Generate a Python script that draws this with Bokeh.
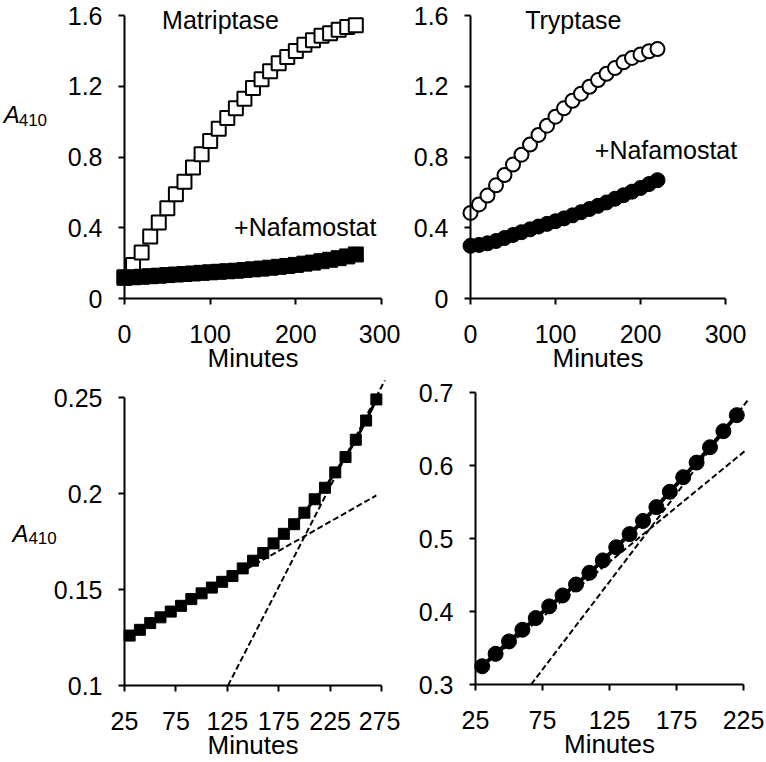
from bokeh.plotting import figure
from bokeh.layouts import gridplot
from bokeh.models import Range1d, FixedTicker, NumeralTickFormatter, Label
from bokeh.embed import file_html
from bokeh.resources import INLINE

# ---------------- data ----------------
mat_minutes = [0, 10, 20, 30, 40, 50, 60, 70, 80, 90, 100, 110, 120, 130,
               140, 150, 160, 170, 180, 190, 200, 210, 220, 230, 240, 250, 260, 270]
matriptase = [0.12, 0.19, 0.26, 0.35, 0.43, 0.51, 0.59, 0.66, 0.74, 0.815, 0.89,
              0.96, 1.02, 1.075, 1.13, 1.19, 1.24, 1.285, 1.33, 1.365, 1.40,
              1.435, 1.46, 1.485, 1.50, 1.52, 1.535, 1.545]
matriptase_nafamostat = [0.117, 0.12, 0.123, 0.126, 0.129, 0.1325, 0.1355, 0.1385,
                         0.1415, 0.145, 0.148, 0.151, 0.154, 0.157, 0.161, 0.165,
                         0.169, 0.174, 0.179, 0.184, 0.190, 0.197, 0.203, 0.211,
                         0.219, 0.228, 0.238, 0.249]

tryp_minutes = [0, 10, 20, 30, 40, 50, 60, 70, 80, 90, 100, 110, 120, 130,
                140, 150, 160, 170, 180, 190, 200, 210, 220]
tryptase = [0.484, 0.532, 0.582, 0.64, 0.698, 0.757, 0.813, 0.87, 0.925, 0.977,
            1.028, 1.075, 1.118, 1.158, 1.197, 1.235, 1.27, 1.303, 1.335, 1.36,
            1.38, 1.398, 1.41]
tryptase_nafamostat = [0.298, 0.303, 0.312, 0.325, 0.342, 0.359, 0.375, 0.391,
                       0.407, 0.422, 0.437, 0.453, 0.47, 0.488, 0.506, 0.524,
                       0.543, 0.564, 0.584, 0.604, 0.625, 0.647, 0.669]

# fitted tangent lines (zoomed panels)
mat_fit1_x = [30, 270]
mat_fit1_y = [0.126, 0.199]
mat_fit2_x = [125.7, 280]
mat_fit2_y = [0.1, 0.2608]
tryp_fit1_x = [30, 227]
tryp_fit1_y = [0.325, 0.6213]
tryp_fit2_x = [66.5, 228]
tryp_fit2_y = [0.3, 0.689]

top_x_ticks = [0, 100, 200, 300]
top_y_ticks = [0, 0.4, 0.8, 1.2, 1.6]
bl_x_ticks = [25, 75, 125, 175, 225, 275]
bl_y_ticks = [0.1, 0.15, 0.2, 0.25]
br_x_ticks = [25, 75, 125, 175, 225]
br_y_ticks = [0.3, 0.4, 0.5, 0.6, 0.7]

FONT = "Liberation Sans"


def make_fig(w, h, xb, yb, ax_px, ay_px, x_len_px, y_len_px, xt, yt, yfmt):
    """w,h: figure size; xb,yb: axis bounds; ax_px: pixel x of the y-axis from
    the figure's left; ay_px: pixel y of the x-axis from the figure's top;
    x_len_px / y_len_px: pixel length of the axes."""
    sx = x_len_px / (xb[1] - xb[0])
    sy = y_len_px / (yb[1] - yb[0])
    x_range = Range1d(xb[0] - ax_px / sx, xb[0] + (w - ax_px) / sx)
    y_range = Range1d(yb[0] - (h - ay_px) / sy, yb[0] + ay_px / sy)
    p = figure(width=w, height=h, x_range=x_range, y_range=y_range,
               output_backend="svg", toolbar_location=None,
               min_border=0, min_border_left=0, min_border_right=0,
               min_border_top=0, min_border_bottom=0)
    p.outline_line_color = None
    p.xgrid.visible = False
    p.ygrid.visible = False
    p.xaxis.fixed_location = yb[0]
    p.yaxis.fixed_location = xb[0]
    p.xaxis.bounds = xb
    p.yaxis.bounds = yb
    p.xaxis.ticker = FixedTicker(ticks=xt)
    p.yaxis.ticker = FixedTicker(ticks=yt)
    p.xaxis.formatter = NumeralTickFormatter(format="0")
    p.yaxis.formatter = NumeralTickFormatter(format=yfmt)
    for ax in (p.xaxis[0], p.yaxis[0]):
        ax.axis_line_width = 2
        ax.axis_line_color = "black"
        ax.major_tick_line_width = 2
        ax.major_tick_line_color = "black"
        ax.major_tick_out = 6
        ax.major_tick_in = 0
        ax.minor_tick_line_color = None
        ax.major_label_text_font = FONT
        ax.major_label_text_font_size = "25px"
        ax.major_label_text_color = "black"
    p.xaxis.major_label_standoff = 20
    p.yaxis.major_label_standoff = 16
    p.xaxis.axis_label = "Minutes"
    p.xaxis.axis_label_text_font = FONT
    p.xaxis.axis_label_text_font_size = "26px"
    p.xaxis.axis_label_text_font_style = "normal"
    p.xaxis.axis_label_text_color = "black"
    p.xaxis.axis_label_standoff = -3
    return p


def add_text(p, x, y, text, size="25px", style="normal", align="center"):
    p.add_layout(Label(x=x, y=y, text=text, text_font=FONT, text_font_size=size,
                       text_font_style=style, text_align=align,
                       text_baseline="middle", text_color="black"))


# ---------------- top-left: Matriptase ----------------
tl = make_fig(400, 380, (0, 300), (0, 1.6), 124, 298, 257, 283,
              top_x_ticks, top_y_ticks, "0.[0]")
tl.scatter(mat_minutes, matriptase, marker="square", size=14, fill_color="white",
           line_color="black", line_width=2)
tl.scatter(mat_minutes, matriptase_nafamostat, marker="square", size=15,
           fill_color="black", line_color="black")
add_text(tl, 112, 1.572, "Matriptase")
add_text(tl, 211, 0.403, "+Nafamostat")
add_text(tl, -141, 1.040, "A", size="24px", style="italic", align="left")
add_text(tl, -123.5, 1.012, "410", size="17px", align="left")

# ---------------- top-right: Tryptase ----------------
tr = make_fig(366, 380, (0, 300), (0, 1.6), 70, 298, 255, 283,
              top_x_ticks, top_y_ticks, "0.[0]")
tr.scatter(tryp_minutes, tryptase, marker="circle", size=14, fill_color="white",
           line_color="black", line_width=2)
tr.scatter(tryp_minutes, tryptase_nafamostat, marker="circle", size=15,
           fill_color="black", line_color="black")
add_text(tr, 121, 1.576, "Tryptase")
add_text(tr, 230, 0.838, "+Nafamostat")

# ---------------- bottom-left: Matriptase + Nafamostat zoom ----------------
bl = make_fig(400, 382, (25, 275), (0.1, 0.25), 124, 305, 257, 288,
              bl_x_ticks, bl_y_ticks, "0.[00]")
bl_x = [m for m in mat_minutes if m >= 30]
bl_y = [v for m, v in zip(mat_minutes, matriptase_nafamostat) if m >= 30]
bl.line(bl_x, bl_y, line_color="black", line_width=3)
bl.scatter(bl_x, bl_y, marker="square", size=11, fill_color="black",
           line_color="black")
bl.line(mat_fit1_x, mat_fit1_y, line_color="black", line_width=2, line_dash="6 3")
bl.line(mat_fit2_x, mat_fit2_y, line_color="black", line_width=2, line_dash="6 3")
add_text(bl, -84, 0.1794, "A", size="24px", style="italic", align="left")
add_text(bl, -68.5, 0.1768, "410", size="17px", align="left")

# ---------------- bottom-right: Tryptase + Nafamostat zoom ----------------
br = make_fig(366, 382, (25, 225), (0.3, 0.7), 75, 304, 268, 292,
              br_x_ticks, br_y_ticks, "0.[0]")
br_x = [m for m in tryp_minutes if m >= 30]
br_y = [v for m, v in zip(tryp_minutes, tryptase_nafamostat) if m >= 30]
br.line(br_x, br_y, line_color="black", line_width=4)
br.scatter(br_x, br_y, marker="circle", size=15, fill_color="black",
           line_color="black")
br.line(tryp_fit1_x, tryp_fit1_y, line_color="black", line_width=2, line_dash="6 3")
br.line(tryp_fit2_x, tryp_fit2_y, line_color="black", line_width=2, line_dash="6 3")

grid = gridplot([[tl, tr], [bl, br]], toolbar_location=None)

open("out.html", "w").write(file_html(grid, INLINE))
